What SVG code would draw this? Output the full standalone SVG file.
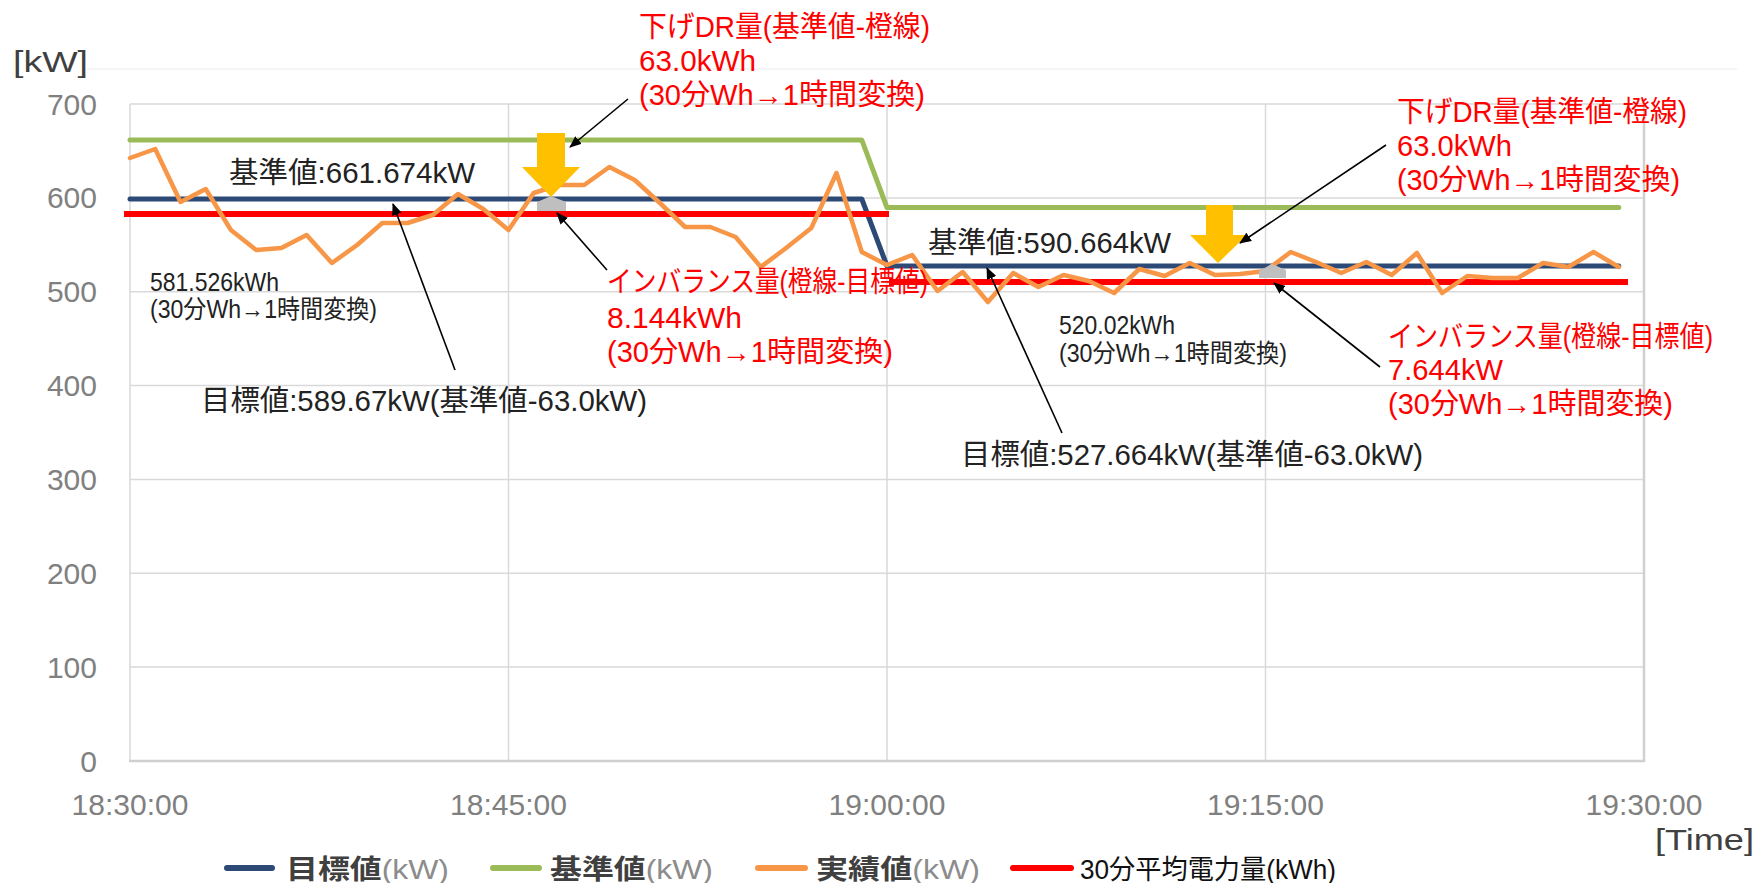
<svg xmlns="http://www.w3.org/2000/svg" width="1760" height="883" viewBox="0 0 1760 883">
<defs>
<style>
text{font-family:"Liberation Sans","Noto Sans CJK JP",sans-serif}
.ax{fill:#808080;font-size:30px}
.unit{fill:#404040;font-size:30px}
.blk{fill:#222;font-size:29px}
.sm{fill:#222;font-size:25px}
.red{fill:#ff0000;font-size:29px}
.grid{stroke:#d9d9d9;stroke-width:1.5;fill:none}
.ser{fill:none;stroke-linecap:round;stroke-linejoin:round}
.conn{stroke:#000;stroke-width:1.6;fill:none;marker-end:url(#ah)}
.gray{fill:#bfbfbf}
.yel{fill:#ffc000}
.leg{font-size:27px}
</style>
<marker id="ah" viewBox="0 0 12 10" refX="11" refY="5" markerWidth="12" markerHeight="10" markerUnits="userSpaceOnUse" orient="auto">
<path d="M0,0 L12,5 L0,10 Z" fill="#000"/>
</marker>
</defs>
<rect width="1760" height="883" fill="#fff"/>
<line x1="87" y1="69" x2="1737" y2="69" stroke="#f0f0f0" stroke-width="1.5"/>
<g id="grid">
<line class="grid" x1="130" y1="104" x2="1644" y2="104"/>
<line class="grid" x1="130" y1="197.9" x2="1644" y2="197.9"/>
<line class="grid" x1="130" y1="291.7" x2="1644" y2="291.7"/>
<line class="grid" x1="130" y1="385.6" x2="1644" y2="385.6"/>
<line class="grid" x1="130" y1="479.4" x2="1644" y2="479.4"/>
<line class="grid" x1="130" y1="573.3" x2="1644" y2="573.3"/>
<line class="grid" x1="130" y1="667.1" x2="1644" y2="667.1"/>
<line class="grid" x1="130" y1="104" x2="130" y2="761"/>
<line class="grid" x1="508.5" y1="104" x2="508.5" y2="761"/>
<line class="grid" x1="887" y1="104" x2="887" y2="761"/>
<line class="grid" x1="1265.5" y1="104" x2="1265.5" y2="761"/>
<line x1="1644" y1="104" x2="1644" y2="762" stroke="#d0d0d0" stroke-width="2.5"/>
<line x1="129" y1="761" x2="1645" y2="761" stroke="#cfcfcf" stroke-width="2.5"/>
</g>
<g id="y-axis">
<text class="unit" x="13" y="72" textLength="75" lengthAdjust="spacingAndGlyphs">[kW]</text>
<text class="ax" x="97" y="114.5" text-anchor="end">700</text>
<text class="ax" x="97" y="208.4" text-anchor="end">600</text>
<text class="ax" x="97" y="302.2" text-anchor="end">500</text>
<text class="ax" x="97" y="396.1" text-anchor="end">400</text>
<text class="ax" x="97" y="489.9" text-anchor="end">300</text>
<text class="ax" x="97" y="583.8" text-anchor="end">200</text>
<text class="ax" x="97" y="677.6" text-anchor="end">100</text>
<text class="ax" x="97" y="771.5" text-anchor="end">0</text>
</g>
<g id="x-axis">
<text class="ax" x="130" y="815" text-anchor="middle">18:30:00</text>
<text class="ax" x="508.5" y="815" text-anchor="middle">18:45:00</text>
<text class="ax" x="887" y="815" text-anchor="middle">19:00:00</text>
<text class="ax" x="1265.5" y="815" text-anchor="middle">19:15:00</text>
<text class="ax" x="1644" y="815" text-anchor="middle">19:30:00</text>
<text class="unit" x="1655" y="850" textLength="99" lengthAdjust="spacingAndGlyphs">[Time]</text>
</g>
<g id="series">
<polyline class="ser" stroke="#9bbb59" stroke-width="5" points="130,140 861.8,140 887,207.6 1618.8,207.6"/>
<polyline class="ser" stroke="#2d4a77" stroke-width="5" points="130,199 861.8,199 887,266 1618.8,266"/>
<line x1="124" y1="214" x2="889" y2="214" stroke="#ff0000" stroke-width="6"/>
<line x1="889" y1="282" x2="1628" y2="282" stroke="#ff0000" stroke-width="6"/>
<polyline class="ser" stroke="#f79646" stroke-width="4.5" points="130,158 155.2,149 180.5,202 205.7,189 230.9,230 256.2,250 281.4,248 306.6,235 331.9,263 357.1,245 382.3,223 407.6,223 432.8,215 458,194 483.3,209 508.5,230 533.7,193 559,185 584.2,185 609.4,167 634.7,180 659.9,203 685.1,227 710.4,227 735.6,237 760.8,267 786.1,248 811.3,228 836.5,173 861.8,252 887,265 912.2,255 937.5,291 962.7,272 987.9,302 1013.2,273 1038.4,287 1063.6,275 1088.9,281 1114.1,293 1139.3,269 1164.6,276 1189.8,263 1215,275 1240.3,274 1265.5,271 1290.7,252 1316,262 1341.2,273 1366.4,262 1391.7,275 1416.9,253 1442.1,293 1467.4,276 1492.6,278 1517.8,278 1543.1,263 1568.3,267 1593.5,252 1618.8,267"/>
<polygon class="gray" points="537,202 551,196 566,202 566,211 537,211"/>
<polygon class="gray" points="1259,271 1272,264 1286,270 1286,278 1259,278"/>
<polygon class="yel" points="537,133 565,133 565,167 580,167 551,197 522,167 537,167"/>
<polygon class="yel" points="1206,205 1233,205 1233,235 1247,235 1218,263 1190,235 1206,235"/>
</g>
<g id="connectors">
<line class="conn" x1="628" y1="99" x2="570" y2="147"/>
<line class="conn" x1="455" y1="370" x2="393" y2="204"/>
<line class="conn" x1="607" y1="270" x2="557" y2="213"/>
<line class="conn" x1="1386" y1="145" x2="1240" y2="243"/>
<line class="conn" x1="1062" y1="433" x2="987" y2="268"/>
<line class="conn" x1="1380" y1="367" x2="1274" y2="283"/>
</g>
<g id="label-base1"><text class="blk" x="229" y="183" font-size="30" textLength="246" lengthAdjust="spacingAndGlyphs">基準値:661.674kW</text></g>
<g id="label-avg1">
<text class="sm" x="150" y="291" font-size="24" textLength="129" lengthAdjust="spacingAndGlyphs">581.526kWh</text>
<text class="sm" x="150" y="318" textLength="227" lengthAdjust="spacingAndGlyphs">(30分Wh→1時間変換)</text>
</g>
<g id="label-target1"><text class="blk" x="201" y="411" textLength="446" lengthAdjust="spacingAndGlyphs">目標値:589.67kW(基準値-63.0kW)</text></g>
<g id="label-dr1">
<text class="red" x="639" y="37" textLength="291" lengthAdjust="spacingAndGlyphs">下げDR量(基準値-橙線)</text>
<text class="red" x="639" y="71" textLength="117" lengthAdjust="spacingAndGlyphs">63.0kWh</text>
<text class="red" x="639" y="105" textLength="286" lengthAdjust="spacingAndGlyphs">(30分Wh→1時間変換)</text>
</g>
<g id="label-imb1">
<text class="red" x="607" y="292" textLength="321" lengthAdjust="spacingAndGlyphs">インバランス量(橙線-目標値)</text>
<text class="red" x="607" y="328" textLength="135" lengthAdjust="spacingAndGlyphs">8.144kWh</text>
<text class="red" x="607" y="362" textLength="286" lengthAdjust="spacingAndGlyphs">(30分Wh→1時間変換)</text>
</g>
<g id="label-base2"><text class="blk" x="928" y="253" font-size="30" textLength="243" lengthAdjust="spacingAndGlyphs">基準値:590.664kW</text></g>
<g id="label-avg2">
<text class="sm" x="1059" y="334" font-size="24" textLength="116" lengthAdjust="spacingAndGlyphs">520.02kWh</text>
<text class="sm" x="1059" y="362" textLength="228" lengthAdjust="spacingAndGlyphs">(30分Wh→1時間変換)</text>
</g>
<g id="label-target2"><text class="blk" x="961" y="465" textLength="462" lengthAdjust="spacingAndGlyphs">目標値:527.664kW(基準値-63.0kW)</text></g>
<g id="label-dr2">
<text class="red" x="1397" y="122" textLength="290" lengthAdjust="spacingAndGlyphs">下げDR量(基準値-橙線)</text>
<text class="red" x="1397" y="156" textLength="115" lengthAdjust="spacingAndGlyphs">63.0kWh</text>
<text class="red" x="1397" y="190" textLength="283" lengthAdjust="spacingAndGlyphs">(30分Wh→1時間変換)</text>
</g>
<g id="label-imb2">
<text class="red" x="1388" y="347" textLength="325" lengthAdjust="spacingAndGlyphs">インバランス量(橙線-目標値)</text>
<text class="red" x="1388" y="380" textLength="115" lengthAdjust="spacingAndGlyphs">7.644kW</text>
<text class="red" x="1388" y="414" textLength="285" lengthAdjust="spacingAndGlyphs">(30分Wh→1時間変換)</text>
</g>
<g id="legend">
<line x1="227" y1="868" x2="272" y2="868" stroke="#2d4a77" stroke-width="6" stroke-linecap="round"/>
<text class="leg" x="286" y="879" textLength="163" lengthAdjust="spacingAndGlyphs"><tspan fill="#404040" font-weight="bold">目標値</tspan><tspan fill="#8c8c8c">(kW)</tspan></text>
<line x1="493" y1="868" x2="539" y2="868" stroke="#9bbb59" stroke-width="6" stroke-linecap="round"/>
<text class="leg" x="550" y="879" textLength="163" lengthAdjust="spacingAndGlyphs"><tspan fill="#404040" font-weight="bold">基準値</tspan><tspan fill="#8c8c8c">(kW)</tspan></text>
<line x1="758" y1="868" x2="805" y2="868" stroke="#f79646" stroke-width="6" stroke-linecap="round"/>
<text class="leg" x="816" y="879" textLength="164" lengthAdjust="spacingAndGlyphs"><tspan fill="#404040" font-weight="bold">実績値</tspan><tspan fill="#8c8c8c">(kW)</tspan></text>
<line x1="1013" y1="868" x2="1071" y2="868" stroke="#ff0000" stroke-width="6" stroke-linecap="round"/>
<text class="leg" x="1080" y="879" fill="#111" textLength="256" lengthAdjust="spacingAndGlyphs">30分平均電力量(kWh)</text>
</g>
</svg>
